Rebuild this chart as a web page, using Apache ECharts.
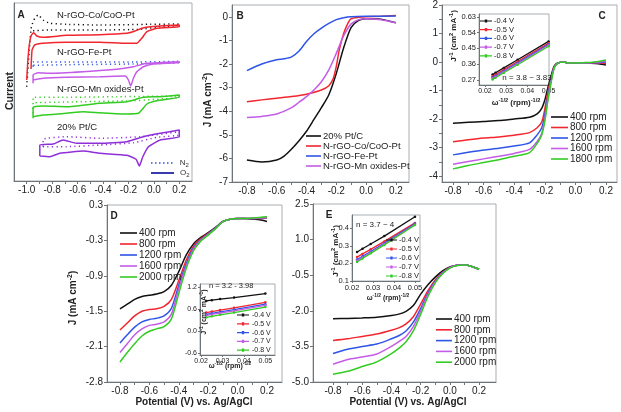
<!DOCTYPE html>
<html><head><meta charset="utf-8">
<script src="https://cdn.jsdelivr.net/npm/echarts@6/dist/echarts.min.js"></script>
<style>html,body{margin:0;padding:0;background:#fff}#c{width:621px;height:412px}</style>
</head><body><div id="c"></div>
<script>
// ---------- Panel A (cyclic voltammograms, stacked, arbitrary current units) ----------
const aCoO2V = [-1.0,-0.99,-0.976,-0.963,-0.945,-0.92,-0.871,-0.687,-0.424,-0.213,-0.148,-0.095,-0.029,0.2,0.2,0.024,-0.055,-0.095,-0.134,-0.213,-0.424,-0.687,-0.871,-0.937,-0.958,-0.966];
const aCoO2I = [101,122.7,139.3,146,148.3,145,143.7,145.7,146.3,147.7,150,152.7,154.3,156,154.3,152.7,149.3,142.7,137.7,137.7,138.7,138.7,137.7,136,131,112];
const aCoN2V = [-1.0,-0.98,-0.963,-0.937,-0.91,-0.871,-0.818,-0.687,-0.424,-0.029,0.2,0.2,0.05,-0.108,-0.424,-0.818,-0.95];
const aCoN2I = [94.3,131,154.3,162.7,166,161,157.7,156.7,156,156.7,157,155.7,154.3,151.7,151,151,150.3];
const aFeO2V = [-0.95,-0.95,-0.91,-0.818,-0.556,-0.292,-0.161,-0.055,0.2,0.2,-0.003,-0.082,-0.134,-0.161,-0.182,-0.2,-0.226,-0.424,-0.687,-0.871,-0.95];
const aFeO2I = [97.7,106,108.3,107.7,109.3,111.7,114.3,117.7,119.3,118.3,117,114.3,109.3,102.7,95,101,105,104.3,103.7,102.7,101];
const aFeN2V = [-0.95,-0.95,-0.687,-0.161,0.2,0.2,-0.161,-0.687,-0.95];
const aFeN2I = [114.3,119,119,119,119.7,118.3,117,116.3,115.7];
const aMnO2V = [-0.95,-0.95,-0.871,-0.687,-0.424,-0.213,-0.082,0.05,0.2,0.2,0.024,-0.055,-0.121,-0.213,-0.424,-0.556,-0.687,-0.871,-0.95];
const aMnO2I = [62.7,73.7,75,74.3,77.7,79.3,83.7,84.3,86,83.7,80.3,77,67.7,67,68.3,69.3,67.7,66,64.3];
const aMnN2V = [-0.95,-0.95,-0.687,-0.292,0.2,0.2,-0.161,-0.687,-0.95];
const aMnN2I = [67.7,83.7,83.7,84.3,85,83.7,80.3,79,78.3];
const aPtO2V = [-0.897,-0.897,-0.792,-0.713,-0.608,-0.424,-0.213,-0.082,0.05,0.2,0.2,0.05,-0.042,-0.087,-0.114,-0.14,-0.213,-0.424,-0.556,-0.74,-0.818,-0.897];
const aPtO2I = [25,36,37,41,37.7,37.7,39.3,44.3,47.7,51,44.3,41,34.3,24.3,15,21.7,25.7,27.7,30,27.7,24.3,25];
const aPtN2V = [-0.871,-0.871,-0.687,-0.424,-0.108,0.2,0.2,0.024,-0.161,-0.424,-0.687,-0.871];
const aPtN2I = [34.3,41.7,44.3,42.7,44.3,49.3,46,43.7,38.3,36,34.3,34.3];
const aXTicks = [-1.0,-0.9,-0.8,-0.7,-0.6,-0.5,-0.4,-0.3,-0.2,-0.1,0.0,0.1,0.2];
const aXLabels = [-1.0,-0.8,-0.6,-0.4,-0.2,0.0,0.2];
const aCurveNames = ['N-rGO-Co/CoO-Pt','N-rGO-Fe-Pt','N-rGO-Mn oxides-Pt','20% Pt/C'];

// ---------- Panel B (LSV of catalysts) ----------
const bPtV = [-0.8,-0.7,-0.6,-0.55,-0.5,-0.45,-0.4,-0.35,-0.3,-0.25,-0.2,-0.15,-0.1,-0.05,0,0.1,0.2];
const bPtJ = [-6.07,-6.15,-6.07,-5.9,-5.6,-5.25,-4.85,-4.35,-3.85,-3.3,-2.4,-1.3,-0.45,-0.15,-0.08,-0.1,-0.25];
const bCoV = [-0.8,-0.7,-0.6,-0.5,-0.4,-0.3,-0.25,-0.22,-0.2,-0.18,-0.15,-0.12,-0.1,-0.05,0,0.1,0.2];
const bCoJ = [-3.6,-3.52,-3.45,-3.38,-3.28,-3.1,-2.92,-2.6,-2.1,-1.4,-0.7,-0.25,-0.08,-0.02,0,0.02,0.05];
const bFeV = [-0.8,-0.7,-0.6,-0.55,-0.5,-0.45,-0.4,-0.35,-0.3,-0.25,-0.2,-0.15,-0.1,0,0.2];
const bFeJ = [-2.28,-2.0,-1.82,-1.78,-1.7,-1.45,-1.05,-0.72,-0.48,-0.28,-0.12,-0.04,0,0.02,0.03];
const bMnV = [-0.8,-0.7,-0.6,-0.5,-0.45,-0.4,-0.35,-0.3,-0.25,-0.2,-0.15,-0.1,-0.05,0,0.1,0.2];
const bMnJ = [-4.27,-4.22,-4.12,-3.85,-3.62,-3.38,-3.1,-2.75,-2.25,-1.55,-0.8,-0.3,-0.12,-0.08,-0.12,-0.25];
const bNames = ['20% Pt/C','N-rGO-Co/CoO-Pt','N-rGO-Fe-Pt','N-rGO-Mn oxides-Pt'];
const bXLabels = [-0.8,-0.6,-0.4,-0.2,0.0,0.2];
const bYLabels = [-7,-6,-5,-4,-3,-2,-1,0];

// ---------- Panel C (RDE, N-rGO-Co/CoO-Pt) ----------
const cV = [-0.8,-0.7,-0.6,-0.5,-0.4,-0.3,-0.25,-0.22,-0.2,-0.18,-0.16,-0.14,-0.12,-0.1,-0.08,-0.05,0,0.05,0.1,0.15,0.2];
const c400 = [-2.14,-2.11,-2.08,-2.05,-1.99,-1.93,-1.81,-1.62,-1.33,-0.9,-0.5,-0.16,-0.04,-0.01,0,-0.02,-0.03,-0.03,-0.04,-0.06,-0.1];
const c800 = [-2.79,-2.72,-2.66,-2.62,-2.56,-2.47,-2.3,-2.1,-1.65,-1.05,-0.6,-0.18,-0.05,-0.01,0,-0.02,-0.03,-0.03,-0.03,-0.04,-0.05];
const c1200 = [-3.25,-3.16,-3.08,-3.02,-2.94,-2.83,-2.55,-2.3,-1.85,-1.2,-0.65,-0.2,-0.06,-0.01,0,-0.02,-0.03,-0.03,-0.02,-0.02,0];
const c1600 = [-3.58,-3.48,-3.39,-3.3,-3.2,-3.06,-2.78,-2.5,-2.0,-1.3,-0.7,-0.22,-0.06,-0.01,0,-0.02,-0.03,-0.03,-0.02,0,0.03];
const c1800 = [-3.74,-3.62,-3.52,-3.42,-3.3,-3.17,-2.85,-2.55,-2.08,-1.35,-0.75,-0.24,-0.06,-0.01,0,-0.02,-0.03,-0.02,-0.01,0.02,0.07];
const cNames = ['400 rpm','800 rpm','1200 rpm','1600 rpm','1800 rpm'];
const cYLabels = [-4,-3,-2,-1,0,1,2];
// C inset (Koutecky-Levich)
const cInX = [0.0236,0.025,0.0289,0.0354,0.05];
const cIn04 = [0.30,0.31,0.338,0.385,0.49];
const cIn05 = [0.29,0.30,0.328,0.375,0.48];
const cIn06 = [0.283,0.293,0.32,0.367,0.473];
const cIn07 = [0.278,0.288,0.315,0.362,0.468];
const cIn08 = [0.272,0.282,0.31,0.356,0.462];
const cInYLabels = [0.27,0.36,0.45,0.54,0.63];
const inXLabels = [0.02,0.03,0.04,0.05];
const vNames = ['-0.4 V','-0.5 V','-0.6 V','-0.7 V','-0.8 V'];

// ---------- Panel D (RDE, N-rGO-Fe-Pt) ----------
const dV = [-0.8,-0.75,-0.7,-0.65,-0.6,-0.55,-0.5,-0.45,-0.4,-0.35,-0.3,-0.25,-0.2,-0.15,-0.1,-0.05,0,0.05,0.1,0.15,0.2];
const d400 = [-1.46,-1.38,-1.3,-1.25,-1.23,-1.21,-1.17,-1.06,-0.83,-0.55,-0.36,-0.25,-0.17,-0.08,0.02,0.06,0.07,0.07,0.06,0.05,0.02];
const d800 = [-1.82,-1.7,-1.58,-1.5,-1.47,-1.46,-1.42,-1.3,-0.98,-0.64,-0.4,-0.27,-0.18,-0.09,0.02,0.06,0.07,0.07,0.07,0.07,0.08];
const d1200 = [-2.04,-1.9,-1.77,-1.68,-1.64,-1.62,-1.58,-1.45,-1.06,-0.7,-0.43,-0.29,-0.19,-0.09,0.02,0.06,0.07,0.07,0.07,0.08,0.09];
const d1600 = [-2.2,-2.05,-1.9,-1.8,-1.74,-1.72,-1.68,-1.55,-1.12,-0.74,-0.45,-0.3,-0.2,-0.1,0.02,0.06,0.07,0.07,0.07,0.08,0.09];
const d2000 = [-2.36,-2.2,-2.05,-1.92,-1.84,-1.8,-1.76,-1.63,-1.2,-0.78,-0.48,-0.31,-0.21,-0.1,0.02,0.06,0.07,0.07,0.08,0.09,0.1];
const deNames = ['400 rpm','800 rpm','1200 rpm','1600 rpm','2000 rpm'];
const dYTicks = [-2.7,-2.1,-1.5,-0.9,-0.3,0.3];
const dYTickText = ['-2.8','-2.1','-1.5','-0.9','-0.3','0.3'];
const dInX = [0.0224,0.025,0.0289,0.0354,0.05];
const dIn04 = [0.82,0.84,0.87,0.91,1.02];
const dIn05 = [0.5,0.53,0.57,0.63,0.78];
const dIn06 = [0.45,0.48,0.52,0.58,0.73];
const dIn07 = [0.42,0.45,0.49,0.55,0.7];
const dIn08 = [0.37,0.4,0.44,0.5,0.65];
const dInYLabels = [-0.6,0.0,0.6,1.2];

// ---------- Panel E (RDE, N-rGO-Mn oxides-Pt) ----------
const eV = [-0.8,-0.7,-0.6,-0.5,-0.4,-0.35,-0.3,-0.25,-0.2,-0.15,-0.1,-0.05,0,0.05,0.1,0.15,0.2];
const e400 = [-2.33,-2.32,-2.3,-2.27,-2.2,-2.14,-2.02,-1.78,-1.3,-0.9,-0.58,-0.32,-0.15,-0.08,-0.07,-0.13,-0.25];
const e800 = [-3.25,-3.18,-3.08,-2.98,-2.82,-2.72,-2.55,-2.25,-1.72,-1.15,-0.7,-0.38,-0.17,-0.08,-0.07,-0.13,-0.25];
const e1200 = [-3.8,-3.62,-3.5,-3.4,-3.18,-3.05,-2.85,-2.48,-1.9,-1.25,-0.75,-0.4,-0.18,-0.08,-0.07,-0.13,-0.25];
const e1600 = [-4.25,-4.05,-3.95,-3.82,-3.5,-3.3,-3.08,-2.67,-2.02,-1.32,-0.78,-0.42,-0.19,-0.08,-0.07,-0.13,-0.25];
const e2000 = [-4.67,-4.55,-4.35,-4.15,-3.8,-3.58,-3.3,-2.85,-2.15,-1.4,-0.82,-0.44,-0.2,-0.09,-0.07,-0.13,-0.25];
const eYLabels = [-5.0,-3.5,-2.0,-0.5,1.0,2.5];
const eInX = [0.0224,0.025,0.0289,0.0354,0.05];
const eIn04 = [0.265,0.283,0.31,0.355,0.465];
const eIn05 = [0.236,0.254,0.28,0.325,0.43];
const eIn06 = [0.222,0.24,0.268,0.315,0.425];
const eIn07 = [0.215,0.234,0.262,0.31,0.42];
const eIn08 = [0.208,0.228,0.257,0.305,0.418];
const eInYLabels = [0.1,0.2,0.3,0.4];
const rpmXLabels = [-0.8,-0.6,-0.4,-0.2,0.0,0.2];
const minorX = [-0.8,-0.7,-0.6,-0.5,-0.4,-0.3,-0.2,-0.1,0.0,0.1,0.2];

// ---------- styling ----------
const F = '"Liberation Sans", Arial, sans-serif';
const COL = {black:'#111111', red:'#f2262e', blue:'#2e55e6', mag:'#c45ce8', green:'#33cc22', purple:'#8e2fd8', navy:'#2424a8'};
const rpmCols = [COL.black, COL.red, COL.blue, COL.mag, COL.green];

const pair = (xs, ys) => xs.map((x, i) => [x, ys[i]]);

function axis(gi, min, max, ticks, labels, fmt, fs, opt) {
  opt = opt || {};
  return {
    type: 'value', gridIndex: gi, min: min, max: max,
    axisLine: {show: opt.line !== false, onZero: false, lineStyle: {color: '#6f7478', width: 1}},
    axisTick: {show: !!ticks, customValues: ticks || [], length: opt.tl || 3, lineStyle: {color: '#6f7478'}},
    axisLabel: {show: !!labels, customValues: labels || [], formatter: fmt, fontSize: fs, fontFamily: F, color: '#222', margin: opt.margin || 4},
    splitLine: {show: false}
  };
}
const f1 = v => v.toFixed(1);
const f0 = v => String(Math.round(v));
const f2 = v => v.toFixed(2);

const grids = [
  {left: 14, top: 3, width: 178, height: 178},
  {left: 232, top: 5, width: 177, height: 177},
  {left: 442, top: 5, width: 175, height: 177},
  {left: 479, top: 14, width: 70, height: 71},
  {left: 107, top: 205, width: 175, height: 177},
  {left: 200, top: 284, width: 75, height: 71},
  {left: 313, top: 204, width: 183, height: 178},
  {left: 352, top: 215, width: 68, height: 66}
].map(g => Object.assign({show: true, borderColor: '#a9aeb2', borderWidth: 1, backgroundColor: 'transparent', containLabel: false}, g));

const xAxes = [
  axis(0, -1.1, 0.3, aXTicks, aXLabels, f1, 10),
  axis(1, -0.9, 0.288, minorX, bXLabels, f1, 10),
  axis(2, -0.872, 0.272, minorX, rpmXLabels, f1, 10),
  axis(3, 0.0172, 0.0502, inXLabels, inXLabels, f2, 7, {margin: 3, tl: 2}),
  axis(4, -0.888, 0.302, minorX, rpmXLabels, f1, 10),
  axis(5, 0.0195, 0.0545, inXLabels, inXLabels, f2, 7, {margin: 3, tl: 2}),
  axis(6, -0.937, 0.316, minorX, rpmXLabels, f1, 10),
  axis(7, 0.02, 0.0524, inXLabels, inXLabels, f2, 7.5, {margin: 3, tl: 2})
];
const dFmt = v => { const i = dYTicks.findIndex(t => Math.abs(t - v) < 1e-6); return i >= 0 ? dYTickText[i] : ''; };
const yAxes = [
  axis(0, 0, 178, null, null, null, 10, {line: true}),
  axis(1, -7, 0.5, bYLabels, bYLabels, f0, 10),
  axis(2, -4.2, 2, [-4,-3.5,-3,-2.5,-2,-1.5,-1,-0.5,0,0.5,1,1.5,2], cYLabels, f0, 10),
  axis(3, 0.24, 0.647, cInYLabels, cInYLabels, f2, 7.5, {margin: 3, tl: 2}),
  axis(4, -2.7, 0.3, dYTicks, dYTicks, dFmt, 10),
  axis(5, -0.655, 1.28, dInYLabels, dInYLabels, f1, 7, {margin: 3, tl: 2}),
  axis(6, -5, 2.5, eYLabels, eYLabels, f1, 10),
  axis(7, 0.1, 0.475, eInYLabels, eInYLabels, f1, 7.5, {margin: 3, tl: 2})
];

const series = [];
function line(name, gi, data, color, extra) {
  series.push(Object.assign({
    type: 'line', name: name, xAxisIndex: gi, yAxisIndex: gi, data: data,
    symbol: 'none', showSymbol: false, smooth: 0.25, silent: true, animation: false,
    lineStyle: {color: color, width: 1.5}, itemStyle: {color: color}, z: 3
  }, extra || {}));
}
function dottedLine(name, gi, data, color) {
  line(name, gi, data, color, {smooth: 0.15, lineStyle: {color: color, width: 1.5, type: [1.2, 3.3], cap: 'butt'}});
}
// Panel A
dottedLine('A Co N2', 0, pair(aCoN2V, aCoN2I), COL.black);
line('A Co O2', 0, pair(aCoO2V, aCoO2I), COL.red, {smooth: 0.15});
dottedLine('A Fe N2', 0, pair(aFeN2V, aFeN2I), COL.blue);
line('A Fe O2', 0, pair(aFeO2V, aFeO2I), COL.mag, {smooth: 0.15});
dottedLine('A Mn N2', 0, pair(aMnN2V, aMnN2I), COL.green);
line('A Mn O2', 0, pair(aMnO2V, aMnO2I), COL.green, {smooth: 0.15});
dottedLine('A Pt N2', 0, pair(aPtN2V, aPtN2I), COL.purple);
line('A Pt O2', 0, pair(aPtO2V, aPtO2I), COL.purple, {smooth: 0.15});
line('N2', 0, [], '#3050e0');
line('O2', 0, [], COL.navy);
// Panel B
line(bNames[0], 1, pair(bPtV, bPtJ), COL.black);
line(bNames[1], 1, pair(bCoV, bCoJ), COL.red);
line(bNames[2], 1, pair(bFeV, bFeJ), COL.blue);
line(bNames[3], 1, pair(bMnV, bMnJ), COL.mag);
// Panel C
[c400, c800, c1200, c1600, c1800].forEach((arr, i) => line(cNames[i], 2, pair(cV, arr), rpmCols[i]));
// Insets
function insetLines(gi, xs, arrs) {
  arrs.forEach((arr, i) => line(vNames[i], gi, pair(xs, arr), rpmCols[i],
    {symbol: 'circle', symbolSize: 2.5, showSymbol: true, smooth: false, lineStyle: {color: rpmCols[i], width: 1.3}}));
}
insetLines(3, cInX, [cIn04, cIn05, cIn06, cIn07, cIn08]);
// Panel D
[d400, d800, d1200, d1600, d2000].forEach((arr, i) => line(deNames[i], 4, pair(dV, arr), rpmCols[i]));
insetLines(5, dInX, [dIn04, dIn05, dIn06, dIn07, dIn08]);
// Panel E
[e400, e800, e1200, e1600, e2000].forEach((arr, i) => line(deNames[i], 6, pair(eV, arr), rpmCols[i]));
insetLines(7, eInX, [eIn04, eIn05, eIn06, eIn07, eIn08]);

// legend icons: solid bar, dotted bar, bar with a small marker
const barIcon = 'rect';
let dots = 'path://';
for (let i = 0; i < 6; i++) { const x = i * 4; dots += `M${x},0 L${x + 1.5},0 L${x + 1.5},1.5 L${x},1.5 Z `; }
const markIcon = 'path://M0,1 L12,1 L12,2.2 L0,2.2 Z M4.8,0 L7.2,0 L7.2,3.2 L4.8,3.2 Z';

function legend(names, left, top, iw, ih, gap, fs, lh, icon, extra) {
  return Object.assign({
    data: names, orient: 'vertical', left: left, top: top, padding: 0,
    itemWidth: iw, itemHeight: ih, itemGap: gap, selectedMode: false, icon: icon,
    itemStyle: {borderWidth: 0},
    textStyle: {fontSize: fs, fontFamily: F, color: '#222', lineHeight: lh, padding: [0, 0, 0, -3]}
  }, extra || {});
}
const subRich = {s: {fontSize: 6, fontFamily: F, color: '#333', padding: [5, 0, 0, 0]}};
const legends = [
  legend(['N2'], 151, 159, 22, 1.5, 0, 8, 8, dots, {formatter: n => n[0] + '{s|2}', textStyle: {fontSize: 8, fontFamily: F, color: '#333', lineHeight: 8, padding: [0, 0, 0, 2], rich: subRich}}),
  legend(['O2'], 151, 169, 23, 1.8, 0, 8, 8, barIcon, {formatter: n => n[0] + '{s|2}', textStyle: {fontSize: 8, fontFamily: F, color: '#333', lineHeight: 8, padding: [0, 0, 0, 1], rich: subRich}}),
  legend(bNames, 306, 131, 15, 1.6, 0, 9.5, 10, barIcon),
  legend(cNames, 551, 112, 17, 1.6, 0.5, 10, 10, barIcon),
  legend(vNames, 480, 17, 12, 3.2, 0.7, 7.5, 8, markIcon),
  legend(deNames, 120, 228, 17, 1.6, 1, 10, 10, barIcon),
  legend(vNames, 237, 311, 14, 3.2, 0.8, 7, 8, markIcon),
  legend(deNames, 436, 314, 16, 1.6, 0.8, 10, 10, barIcon),
  legend(vNames, 386, 236, 11, 3.2, 1, 7.5, 8, markIcon)
];

const supRich = (fs) => ({sup: {fontSize: fs, fontFamily: F, fontWeight: 'bold', color: '#222', padding: [0, 0, fs * 0.9, 0]}});
function txt(x, y, text, fs, opts) {
  opts = opts || {};
  return {
    type: 'text', x: x, y: y, rotation: opts.rot ? Math.PI / 2 : 0, silent: true, z: 10,
    style: {text: text, fontSize: fs, fontFamily: F, fontWeight: opts.w || 'normal', fill: opts.c || '#222',
      align: opts.align || 'center', verticalAlign: 'middle', rich: opts.rich || supRich(fs * 0.7)}
  };
}
const jLabel = 'J (mA cm{sup|-2})';
const kLabelY = 'J{sup|-1} (cm{sup|2} mA{sup|-1})';
const kLabelX = 'ω{sup|-1/2} (rpm){sup|-1/2}';
const graphic = [
  txt(21, 15, 'A', 10, {w: 'bold'}),
  txt(57, 15, aCurveNames[0], 9.5, {align: 'left'}),
  txt(57, 52, aCurveNames[1], 9.5, {align: 'left'}),
  txt(57, 89, aCurveNames[2], 9.5, {align: 'left'}),
  txt(57, 127, aCurveNames[3], 9.5, {align: 'left'}),
  txt(10, 91, 'Current', 10.5, {rot: true, w: 'bold'}),
  txt(240, 16, 'B', 10, {w: 'bold'}),
  txt(208, 100, jLabel, 10, {rot: true, w: 'bold'}),
  txt(602, 16, 'C', 10, {w: 'bold'}),
  txt(454, 36, kLabelY, 8, {rot: true, w: 'bold'}),
  txt(516, 103, kLabelX, 8, {w: 'bold'}),
  txt(527, 78, 'n = 3.8 ~ 3.83', 8),
  txt(114, 216, 'D', 10, {w: 'bold'}),
  txt(73, 298, jLabel, 10, {rot: true, w: 'bold'}),
  txt(194, 402, 'Potential (V) vs. Ag/AgCl', 10, {w: 'bold'}),
  txt(204, 312, kLabelY, 7, {rot: true, w: 'bold'}),
  txt(230, 366, kLabelX, 7, {w: 'bold'}),
  txt(209, 286, 'n = 3.2 - 3.98', 7.5, {align: 'left'}),
  txt(329, 215, 'E', 10, {w: 'bold'}),
  txt(336, 251, kLabelY, 8, {rot: true, w: 'bold'}),
  txt(388, 298, kLabelX, 7, {w: 'bold'}),
  txt(356, 225, 'n = 3.7 ~ 4', 8, {align: 'left'}),
  txt(408, 402, 'Potential (V) vs. Ag/AgCl', 10, {w: 'bold'})
];

const chart = echarts.init(document.getElementById('c'), null, {renderer: 'canvas'});
chart.setOption({
  animation: false,
  backgroundColor: '#fff',
  grid: grids, xAxis: xAxes, yAxis: yAxes, series: series, legend: legends, graphic: graphic
});
</script></body></html>
